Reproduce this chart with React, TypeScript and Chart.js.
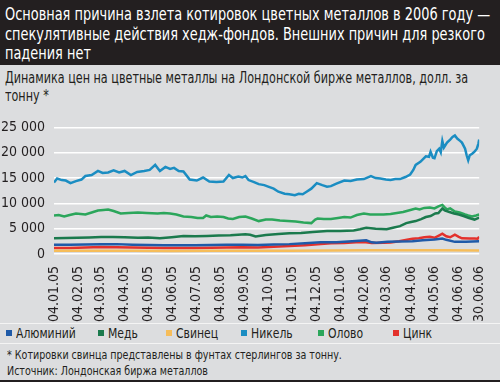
import React, { useEffect, useRef } from "react";
import { Chart, registerables } from "chart.js";

Chart.register(...registerables);

const FONT = '"Liberation Sans Narrow", "DejaVu Sans Condensed", "Roboto Condensed", "Noto Sans", sans-serif';

const titleLines = [
  "Основная причина взлета котировок цветных металлов в 2006 году —",
  "спекулятивные действия хедж-фондов. Внешних причин для резкого",
  "падения нет",
];
const subtitleLines = [
  "Динамика цен на цветные металлы на Лондонской бирже металлов, долл. за",
  "тонну *",
];
const footnotes = [
  "* Котировки свинца представлены в фунтах стерлингов за тонну.",
  "Источник: Лондонская биржа металлов",
];

// x tick positions: days since 04.01.2005
const tickDays = [0, 31, 59, 90, 120, 151, 181, 212, 243, 273, 304, 334, 365, 396, 424, 455, 485, 516, 542];
const tickLabels = [
  "04.01.05", "04.02.05", "04.03.05", "04.04.05", "04.05.05", "04.06.05", "04.07.05",
  "04.08.05", "04.09.05", "04.10.05", "04.11.05", "04.12.05", "04.01.06", "04.02.06",
  "04.03.06", "04.04.06", "04.05.06", "04.06.06", "30.06.06",
];

const seriesNames = ["Алюминий", "Медь", "Свинец", "Никель", "Олово", "Цинк"];
const seriesColors = ["#1f5aa8", "#1b7a4d", "#f6bd5a", "#1b8dc2", "#2ba65b", "#e3312c"];

const aluminiumDays = [0, 20, 40, 60, 80, 100, 120, 140, 160, 180, 200, 220, 240, 260, 280, 300, 320, 340, 360, 380, 398, 405, 411, 425, 440, 457, 470, 485, 495, 500, 511, 525, 542];
const aluminiumValues = [1850, 1850, 1900, 1950, 1950, 1850, 1800, 1750, 1750, 1750, 1800, 1850, 1850, 1800, 1900, 1950, 2100, 2300, 2300, 2500, 2700, 2300, 2200, 2400, 2450, 2500, 2700, 2850, 3050, 2800, 2400, 2400, 2500];

const copperDays = [0, 15, 30, 45, 60, 75, 90, 107, 120, 135, 150, 165, 180, 195, 210, 225, 244, 250, 257, 270, 286, 300, 315, 330, 348, 365, 382, 390, 398, 410, 424, 432, 441, 449, 455, 461, 468, 474, 480, 486, 490, 495, 498, 504, 510, 516, 522, 529, 536, 542];
const copperValues = [3100, 3150, 3200, 3250, 3350, 3350, 3300, 3200, 3250, 3100, 3300, 3550, 3500, 3550, 3650, 3700, 3900, 3800, 3450, 3750, 3950, 4100, 4150, 4350, 4550, 4550, 4650, 4900, 5200, 5000, 4900, 5200, 5500, 6100, 6300, 6500, 6900, 7300, 7500, 8000, 8100, 9000, 8600, 8300, 8000, 7800, 7500, 7100, 6800, 7200];

const leadDays = [0, 50, 100, 150, 200, 250, 300, 350, 400, 450, 500, 542];
const leadValues = [650, 650, 620, 600, 620, 640, 660, 700, 720, 750, 720, 700];

const nickelDays = [0, 4, 10, 15, 21, 28, 35, 40, 48, 56, 62, 69, 76, 83, 90, 98, 106, 115, 122, 129, 135, 142, 148, 153, 159, 165, 173, 182, 190, 198, 207, 216, 223, 228, 235, 240, 244, 248, 255, 261, 268, 273, 280, 286, 294, 300, 307, 312, 317, 322, 328, 335, 342, 348, 353, 360, 370, 378, 386, 395, 404, 410, 416, 423, 429, 435, 441, 448, 454, 458, 461, 467, 474, 478, 480, 483, 485, 488, 491, 493, 495, 497, 501, 505, 508, 511, 514, 518, 520, 522, 524, 526, 528, 530, 533, 536, 539, 541, 542];
const nickelValues = [14100, 14900, 14600, 14500, 14000, 14400, 14700, 15400, 15600, 16400, 16000, 16100, 16500, 16100, 16400, 15600, 16200, 16400, 16600, 17600, 16400, 17200, 16800, 17000, 16400, 16300, 14700, 14500, 15100, 14300, 14200, 14300, 15600, 15000, 15300, 15100, 15400, 14600, 14200, 13800, 13600, 13300, 12900, 12300, 11900, 11800, 11600, 11900, 11800, 12300, 12900, 14000, 13600, 13300, 13400, 13900, 14500, 14400, 14700, 14800, 15400, 15000, 14900, 14700, 14600, 14800, 14800, 15200, 15700, 16600, 17600, 18200, 19300, 19200, 20200, 19000, 18900, 20300, 20800, 20100, 22300, 21000, 22000, 22600, 23100, 23400, 22800, 22300, 22000, 21400, 20800, 19500, 18500, 19500, 19800, 20200, 20800, 21800, 22600];

const tinDays = [0, 6, 13, 20, 28, 34, 40, 48, 56, 63, 69, 76, 85, 95, 107, 118, 132, 140, 148, 156, 165, 175, 183, 190, 194, 200, 208, 216, 222, 228, 236, 244, 252, 261, 270, 278, 288, 298, 308, 318, 328, 333, 336, 344, 353, 362, 370, 378, 386, 395, 403, 411, 420, 429, 437, 445, 452, 461, 466, 472, 479, 485, 490, 495, 498, 501, 505, 511, 517, 524, 528, 533, 538, 542];
const tinValues = [7600, 7700, 7400, 7700, 8000, 7900, 7800, 8200, 8600, 8700, 8800, 8500, 8000, 8100, 8200, 8100, 8000, 8100, 8000, 7800, 7400, 7300, 7100, 7100, 7600, 7300, 7400, 7300, 7000, 6900, 7300, 7400, 7000, 6500, 6800, 6800, 6600, 6500, 6400, 6200, 6100, 6800, 7000, 6900, 6900, 7100, 7300, 7200, 7700, 8000, 7800, 7800, 7800, 7900, 8100, 8300, 8600, 9000, 8800, 9100, 9200, 9000, 9400, 9700, 9200, 8800, 9000, 8400, 8200, 7800, 7600, 7400, 7600, 7800];

const zincDays = [0, 20, 40, 60, 80, 100, 120, 140, 160, 180, 200, 220, 240, 260, 280, 300, 320, 340, 353, 370, 385, 395, 405, 420, 429, 440, 450, 457, 465, 472, 479, 485, 490, 495, 500, 505, 511, 516, 520, 530, 536, 540, 542];
const zincValues = [1200, 1200, 1300, 1400, 1350, 1300, 1250, 1200, 1200, 1200, 1250, 1300, 1350, 1300, 1450, 1600, 1750, 1950, 2100, 2150, 2300, 2350, 2150, 2200, 2250, 2500, 2800, 3000, 3100, 3300, 3400, 3200, 3600, 4000, 3500, 3300, 3800, 3400, 3100, 3050, 3050, 3000, 3400];

const seriesDays = [aluminiumDays, copperDays, leadDays, nickelDays, tinDays, zincDays];
const seriesValues = [aluminiumValues, copperValues, leadValues, nickelValues, tinValues, zincValues];

const legendX = [6, 98, 166, 241, 318, 393];

function fmt(v: number) {
  return String(v).replace(/\B(?=(\d{3})+(?!\d))/g, " ");
}

function Line(props: { text: string; left: number; top: number; size: number; lh: number; sx: number; color?: string }) {
  return (
    <div
      style={{
        position: "absolute",
        left: props.left,
        top: props.top,
        fontSize: props.size,
        lineHeight: props.lh + "px",
        whiteSpace: "nowrap",
        color: props.color || "#231f20",
        transform: `scaleX(${props.sx})`,
        transformOrigin: "0 0",
      }}
    >
      {props.text}
    </div>
  );
}

export default function App() {
  const ref = useRef<HTMLCanvasElement>(null);
  useEffect(() => {
    if (!ref.current) return;
    const datasets = seriesNames.map((name, i) => ({
      label: name,
      data: seriesDays[i].map((d, j) => ({ x: d, y: seriesValues[i][j] })),
      borderColor: seriesColors[i],
      backgroundColor: seriesColors[i],
      borderWidth: 2.5,
      pointRadius: 0,
      tension: 0,
      fill: false,
    }));
    const chart = new Chart(ref.current, {
      type: "line",
      data: { datasets },
      options: {
        animation: false,
        responsive: false,
        maintainAspectRatio: false,
        layout: { padding: { top: 13, right: 11, left: 0, bottom: 0 } },
        plugins: { legend: { display: false }, tooltip: { enabled: false }, title: { display: false } },
        scales: {
          x: {
            type: "linear",
            min: 0,
            max: 542,
            grid: { display: false },
            border: { display: false },
            afterBuildTicks: (scale: any) => {
              scale.ticks = tickDays.map((v) => ({ value: v }));
            },
            afterFit: (scale: any) => {
              scale.height = 69;
            },
            ticks: {
              autoSkip: false,
              minRotation: 90,
              maxRotation: 90,
              padding: 4,
              color: "#231f20",
              font: { family: FONT, size: 14 },
              callback: (_v: any, i: number) => tickLabels[i],
            },
          },
          y: {
            min: 0,
            max: 25000,
            grid: { color: "#ffffff", lineWidth: 1.5, drawTicks: false },
            border: { display: false },
            afterFit: (scale: any) => {
              scale.width = 54;
            },
            ticks: {
              stepSize: 2500,
              padding: 9,
              color: "#231f20",
              font: { family: FONT, size: 14 },
              callback: (v: any) => (Number(v) % 5000 === 0 ? fmt(Number(v)) : ""),
            },
          },
        },
      },
    });
    return () => chart.destroy();
  }, []);

  return (
    <div style={{ position: "absolute", left: 0, top: 0, width: 500, height: 382, background: "#dcdddf", overflow: "hidden", fontFamily: FONT, color: "#231f20" }}>
      <div style={{ position: "absolute", left: 0, top: 0, width: 500, height: 65, background: "#231f20" }} />
      {titleLines.map((t, i) => (
        <Line key={i} text={t} left={5} top={4 + i * 19.5} size={17} lh={20} sx={0.845} color="#ffffff" />
      ))}
      {subtitleLines.map((t, i) => (
        <Line key={i} text={t} left={5} top={69 + i * 17.5} size={15} lh={18} sx={0.83} />
      ))}
      <canvas ref={ref} width={500} height={213} style={{ position: "absolute", left: 0, top: 110, width: 500, height: 213 }} />
      <div style={{ position: "absolute", left: 0, top: 323, width: 500, height: 1, background: "#f4f4f4" }} />
      {seriesNames.map((n, i) => (
        <div key={n}>
          <div style={{ position: "absolute", left: legendX[i], top: 330, width: 6, height: 6, background: seriesColors[i] }} />
          <Line text={n} left={legendX[i] + 10} top={325} size={14} lh={17} sx={0.86} />
        </div>
      ))}
      <div style={{ position: "absolute", left: 0, top: 343, width: 500, height: 1, background: "#f4f4f4" }} />
      {footnotes.map((t, i) => (
        <Line key={i} text={t} left={7} top={347 + i * 16} size={13} lh={16} sx={0.815} />
      ))}
      <div style={{ position: "absolute", left: 0, top: 380, width: 500, height: 2, background: "#231f20" }} />
    </div>
  );
}
